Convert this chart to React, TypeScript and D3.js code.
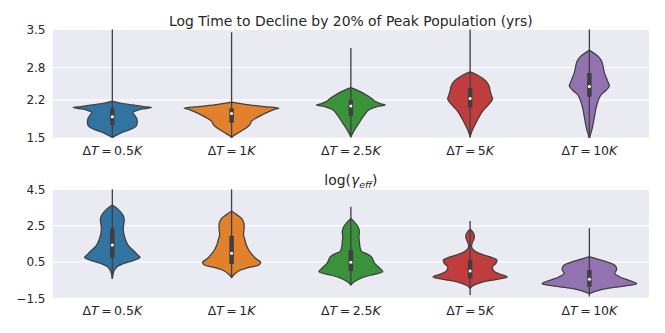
import React from 'react';
import * as d3 from 'd3';

const categories = ['0.5', '1', '2.5', '5', '10'];
const colors = ['#3274a1', '#e1812c', '#3a923a', '#c03d3e', '#9372b2'];
const topTicks = [1.5, 2.2, 2.8, 3.5];
const bottomTicks = [-1.5, 0.5, 2.5, 4.5];
const topDomain = [1.5, 3.5];
const bottomDomain = [-1.5, 4.5];
const topTitle = 'Log Time to Decline by 20% of Peak Population (yrs)';

// violin outlines: [value, relative half-width]
const topBlue = [[2.18, 0], [2.145, 0.17], [2.11, 0.42], [2.08, 0.66], [2.06, 0.82], [2.035, 0.63], [2.0, 0.49], [1.97, 0.43], [1.92, 0.47], [1.86, 0.51], [1.77, 0.52], [1.71, 0.49], [1.65, 0.35], [1.59, 0.17], [1.54, 0.06], [1.51, 0]];
const topOrange = [[2.16, 0], [2.12, 0.28], [2.08, 0.69], [2.05, 0.99], [2.02, 0.87], [1.95, 0.69], [1.89, 0.56], [1.81, 0.42], [1.74, 0.38], [1.67, 0.28], [1.6, 0.15], [1.54, 0.04], [1.51, 0]];
const topGreen = [[2.43, 0], [2.35, 0.21], [2.28, 0.35], [2.22, 0.45], [2.17, 0.52], [2.13, 0.63], [2.11, 0.72], [2.07, 0.52], [2.02, 0.38], [1.92, 0.28], [1.8, 0.19], [1.68, 0.1], [1.59, 0.04], [1.52, 0]];
const topRed = [[2.72, 0], [2.66, 0.15], [2.6, 0.26], [2.53, 0.35], [2.45, 0.4], [2.37, 0.42], [2.28, 0.45], [2.22, 0.47], [2.16, 0.43], [2.08, 0.35], [1.99, 0.26], [1.86, 0.17], [1.74, 0.1], [1.63, 0.04], [1.52, 0]];
const topPurple = [[3.12, 0], [3.06, 0.1], [3.0, 0.19], [2.91, 0.26], [2.81, 0.29], [2.72, 0.31], [2.6, 0.36], [2.51, 0.4], [2.46, 0.42], [2.38, 0.35], [2.29, 0.24], [2.2, 0.19], [2.05, 0.14], [1.86, 0.1], [1.68, 0.06], [1.555, 0.02], [1.48, 0]];

const botBlue = [[3.64, 0], [3.45, 0.1], [3.27, 0.17], [3.05, 0.23], [2.81, 0.25], [2.57, 0.24], [2.35, 0.23], [2.08, 0.24], [1.71, 0.28], [1.43, 0.33], [1.16, 0.43], [0.92, 0.52], [0.75, 0.58], [0.59, 0.45], [0.42, 0.24], [0.24, 0.1], [0.0, 0.035], [-0.31, 0.007], [-0.44, 0]];
const botOrange = [[3.3, 0], [3.12, 0.1], [2.9, 0.21], [2.63, 0.26], [2.26, 0.26], [1.98, 0.25], [1.71, 0.28], [1.43, 0.31], [1.16, 0.36], [0.88, 0.44], [0.66, 0.52], [0.48, 0.61], [0.33, 0.57], [0.19, 0.35], [0.0, 0.15], [-0.18, 0.06], [-0.36, 0]];
const botGreen = [[2.9, 0], [2.68, 0.08], [2.44, 0.15], [2.17, 0.18], [1.89, 0.17], [1.62, 0.18], [1.34, 0.19], [1.1, 0.22], [0.975, 0.31], [0.79, 0.43], [0.42, 0.5], [0.15, 0.61], [-0.03, 0.67], [-0.18, 0.49], [-0.36, 0.24], [-0.58, 0.08], [-0.77, 0]];
const botRed = [[2.3, 0], [2.13, 0.06], [1.95, 0.09], [1.76, 0.08], [1.58, 0.05], [1.34, 0.03], [1.16, 0.07], [0.975, 0.19], [0.79, 0.4], [0.61, 0.56], [0.42, 0.54], [0.24, 0.47], [0.0, 0.5], [-0.18, 0.64], [-0.33, 0.78], [-0.46, 0.56], [-0.62, 0.24], [-0.8, 0.07], [-0.95, 0]];
const botPurple = [[0.79, 0], [0.66, 0.17], [0.52, 0.35], [0.37, 0.5], [0.24, 0.56], [0.06, 0.57], [-0.13, 0.53], [-0.31, 0.63], [-0.49, 0.8], [-0.69, 0.99], [-0.82, 0.76], [-0.95, 0.38], [-1.1, 0.14], [-1.25, 0]];

// box stats: [q1, q3, median, whiskerLow, whiskerHigh]
const topBoxes = [[1.74, 2.05, 1.89, 1.52, 3.6], [1.78, 2.05, 1.95, 1.51, 3.45], [1.91, 2.2, 2.09, 1.52, 3.16], [2.06, 2.42, 2.23, 1.52, 3.6], [2.26, 2.7, 2.45, 1.5, 3.6]];
const botBoxes = [[0.73, 2.35, 1.43, -0.44, 4.6], [0.39, 1.95, 0.98, -0.36, 4.6], [0.0, 1.16, 0.48, -0.77, 3.54], [-0.4, 0.61, 0.0, -1.32, 2.75], [-0.86, 0.06, -0.45, -1.4, 2.35]];

const topProfiles = [topBlue, topOrange, topGreen, topRed, topPurple];
const botProfiles = [botBlue, botOrange, botGreen, botRed, botPurple];

const W = 665;
const H = 333;
const FONT = 'DejaVu Sans, sans-serif';
const TXT = '#262626';
const GRAY = '#3f3f3f';
const left = 52.7;
const right = 649;

type Panel = {
  id: string;
  top: number;
  bottom: number;
  domain: number[];
  ticks: number[];
  profiles: number[][][];
  boxes: number[][];
};

const panels: Panel[] = [
  { id: 'p1', top: 29.5, bottom: 138, domain: topDomain, ticks: topTicks, profiles: topProfiles, boxes: topBoxes },
  { id: 'p2', top: 189.3, bottom: 298.3, domain: bottomDomain, ticks: bottomTicks, profiles: botProfiles, boxes: botBoxes },
];

function XLabel({ x, y, c }: { x: number; y: number; c: string }) {
  return (
    <text x={x} y={y} textAnchor="middle" fontSize={12.5} fill={TXT} fontFamily={FONT}>
      <tspan>Δ</tspan>
      <tspan fontStyle="italic">T</tspan>
      <tspan>{'\u2009=\u2009'}</tspan>
      <tspan>{c}</tspan>
      <tspan fontStyle="italic">K</tspan>
    </text>
  );
}

function PanelView({ p }: { p: Panel }) {
  const x = d3.scaleBand<string>().domain(categories).range([left, right]).padding(0);
  const y = d3.scaleLinear().domain(p.domain).range([p.bottom, p.top]);
  const bw = x.bandwidth();
  const hw = d3.scaleLinear().domain([0, 1]).range([0, bw * 0.4]);
  return (
    <g>
      <defs>
        <clipPath id={`clip-${p.id}`}>
          <rect x={left} y={p.top} width={right - left} height={p.bottom - p.top} />
        </clipPath>
      </defs>
      <rect x={left} y={p.top} width={right - left} height={p.bottom - p.top} fill="#eaeaf2" />
      {p.ticks.map((t) => (
        <line key={t} x1={left} x2={right} y1={y(t)} y2={y(t)} stroke="#ffffff" strokeWidth={1.2} />
      ))}
      {p.ticks.map((t) => (
        <text key={'l' + t} x={45.5} y={y(t)} dy="0.36em" textAnchor="end" fontSize={12} fill={TXT} fontFamily={FONT}>
          {d3.format('.1f')(t).replace('-', '\u2212')}
        </text>
      ))}
      <g clipPath={`url(#clip-${p.id})`}>
        {categories.map((c, i) => {
          const cx = (x(c) as number) + bw / 2;
          const area = d3
            .area<number[]>()
            .y((d) => y(d[0]))
            .x0((d) => cx - hw(d[1]))
            .x1((d) => cx + hw(d[1]))
            .curve(d3.curveCatmullRom.alpha(0.5));
          const [q1, q3, med, lo, hi] = p.boxes[i];
          return (
            <g key={c}>
              <path d={area(p.profiles[i]) || ''} fill={colors[i]} stroke={GRAY} strokeWidth={1.25} />
              <line x1={cx} x2={cx} y1={y(lo)} y2={y(hi)} stroke={GRAY} strokeWidth={1.3} />
              <line x1={cx} x2={cx} y1={y(q1)} y2={y(q3)} stroke={GRAY} strokeWidth={4.5} />
              <circle cx={cx} cy={y(med)} r={1.5} fill="#ffffff" />
            </g>
          );
        })}
      </g>
      {categories.map((c) => (
        <XLabel key={'x' + c} x={(x(c) as number) + bw / 2} y={p.bottom + 16.5} c={c} />
      ))}
    </g>
  );
}

export default function App() {
  return (
    <svg width={W} height={H} style={{ position: 'absolute', left: 0, top: 0, background: '#ffffff' }}>
      <rect x={0} y={0} width={W} height={H} fill="#ffffff" />
      {panels.map((p) => (
        <PanelView key={p.id} p={p} />
      ))}
      <text x={(left + right) / 2} y={25.5} textAnchor="middle" fontSize={13.9} fill={TXT} fontFamily={FONT}>
        {topTitle}
      </text>
      <text x={(left + right) / 2} y={185} textAnchor="middle" fontSize={13.9} fill={TXT} fontFamily={FONT}>
        <tspan>log(</tspan>
        <tspan fontStyle="italic">γ</tspan>
        <tspan fontStyle="italic" fontSize={9.5} dy={3}>eff</tspan>
        <tspan dy={-3}>)</tspan>
      </text>
    </svg>
  );
}
